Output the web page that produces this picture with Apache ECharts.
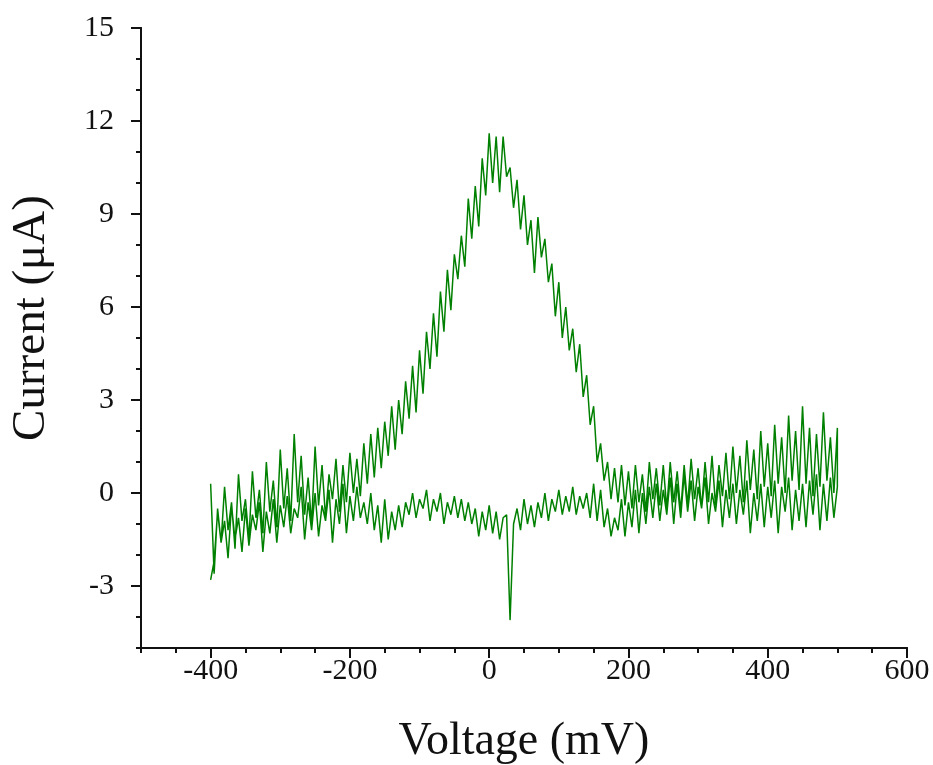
<!DOCTYPE html>
<html>
<head>
<meta charset="utf-8">
<script src="https://cdn.jsdelivr.net/npm/echarts@6/dist/echarts.min.js"></script>
<style>
html,body{margin:0;padding:0;background:#fff;}
#chart{width:933px;height:765px;}
</style>
</head>
<body>
<div id="chart"></div>
<script>
// Voltage sweep (mV), -400 to 500
var voltage = [
-400,-395,-390,-385,-380,-375,-370,-365,-360,-355,
-350,-345,-340,-335,-330,-325,-320,-315,-310,-305,
-300,-295,-290,-285,-280,-275,-270,-265,-260,-255,
-250,-245,-240,-235,-230,-225,-220,-215,-210,-205,
-200,-195,-190,-185,-180,-175,-170,-165,-160,-155,
-150,-145,-140,-135,-130,-125,-120,-115,-110,-105,
-100,-95,-90,-85,-80,-75,-70,-65,-60,-55,
-50,-45,-40,-35,-30,-25,-20,-15,-10,-5,
0,5,10,15,20,25,30,35,40,45,
50,55,60,65,70,75,80,85,90,95,
100,105,110,115,120,125,130,135,140,145,
150,155,160,165,170,175,180,185,190,195,
200,205,210,215,220,225,230,235,240,245,
250,255,260,265,270,275,280,285,290,295,
300,305,310,315,320,325,330,335,340,345,
350,355,360,365,370,375,380,385,390,395,
400,405,410,415,420,425,430,435,440,445,
450,455,460,465,470,475,480,485,490,495,
500
];
// Forward scan current (µA), same order as voltage
var currentForward = [
0.3,-2.6,-0.5,-1.6,0.2,-1.2,-0.3,-1.8,0.6,-0.9,
-0.2,-1.5,0.7,-0.8,0.1,-1.3,1.0,-0.6,0.4,-1.1,
1.4,-0.5,0.8,-0.9,1.9,-0.3,1.2,-0.7,0.5,-1.0,
1.5,-0.4,0.9,-0.8,0.6,-0.2,1.1,-0.6,0.9,-0.3,
1.3,0.0,1.1,-0.1,1.6,0.3,1.9,0.5,2.1,0.8,
2.3,1.2,2.8,1.4,3.0,1.9,3.6,2.4,4.1,2.6,
4.6,3.2,5.2,4.0,5.8,4.4,6.5,5.2,7.2,5.9,
7.7,6.9,8.3,7.3,9.5,8.2,9.9,8.6,10.8,9.6,
11.6,10.0,11.5,9.7,11.5,10.2,10.5,9.2,10.1,8.5,
9.6,8.0,8.8,7.1,8.9,7.6,8.2,6.8,7.4,5.7,
6.8,5.0,6.0,4.6,5.3,3.9,4.8,3.1,3.8,2.2,
2.8,1.0,1.6,0.4,1.0,-0.2,0.8,-0.3,0.9,-0.4,
0.7,-0.5,0.9,-0.3,0.6,-0.6,1.0,-0.2,0.8,-0.4,
0.9,-0.5,1.0,-0.3,0.7,-0.6,0.9,-0.4,1.1,-0.2,
0.8,-0.5,1.0,-0.3,1.2,-0.4,0.9,-0.1,1.3,-0.2,
1.5,0.0,1.2,-0.3,1.7,0.1,1.4,-0.2,2.0,0.2,
1.6,-0.1,2.2,0.3,1.8,0.0,2.5,0.4,2.0,0.1,
2.8,0.3,2.1,-0.1,1.9,0.2,2.6,0.4,1.8,0.0,
2.1
];
// Reverse scan current (µA), from 500 back to -400
var currentReverse = [
0.2,-0.8,0.5,-0.9,0.3,-1.2,0.6,-0.7,0.4,-1.1,
0.3,-0.9,0.1,-1.2,0.5,-0.6,0.2,-1.3,0.4,-0.8,
0.2,-1.1,0.3,-0.9,0.0,-1.3,0.4,-0.7,0.1,-1.0,
0.3,-0.8,0.1,-1.1,0.4,-0.6,0.0,-1.0,0.5,-0.5,
0.2,-0.9,0.4,-0.6,0.6,-0.8,0.3,-1.0,0.5,-0.7,
0.1,-0.9,0.3,-0.8,0.2,-1.0,0.0,-1.3,0.1,-1.1,
-0.3,-1.4,-0.2,-1.2,-0.8,-1.4,-0.5,-1.1,0.1,-0.9,
0.3,-0.8,0.0,-0.5,-0.1,-0.7,0.2,-0.6,-0.1,-0.7,
0.1,-0.6,-0.2,-0.9,0.0,-0.8,-0.3,-1.1,-0.4,-1.0,
-0.2,-1.2,-0.5,-1.0,-4.1,-0.7,-0.8,-1.5,-0.6,-1.3,
-0.4,-1.2,-0.6,-1.4,-0.5,-1.0,-0.3,-0.9,-0.2,-0.8,
-0.1,-0.7,-0.3,-1.0,0.0,-0.6,-0.2,-0.9,0.1,-0.5,
-0.2,-0.8,0.0,-0.7,-0.3,-1.1,-0.4,-1.2,-0.6,-1.5,
-0.2,-1.6,-0.4,-1.2,0.0,-1.0,-0.3,-0.8,0.2,-0.9,
-0.1,-1.3,0.3,-1.0,-0.2,-1.6,0.1,-0.9,-0.4,-1.4,
0.0,-1.2,-0.3,-1.5,0.2,-0.8,-0.5,-1.3,-0.1,-1.1,
-0.4,-1.6,-0.2,-1.3,-0.6,-1.9,-0.3,-1.2,-0.7,-1.7,
-0.5,-1.9,-0.8,-1.5,-0.4,-2.1,-0.9,-1.6,-0.6,-2.2,
-2.8
];
// Axis ranges and labelled ticks
var xRange = [-500, 600];
var yRange = [-5, 15];
var xLabelRange = [-400, 600];   // labelled (major) ticks every 200
var yLabelRange = [-3, 15];      // labelled (major) ticks every 3
var xMajorStep = 200, xMinorStep = 50;
var yMajorStep = 3, yMinorStep = 1;
var xTitle = 'Voltage (mV)';
var yTitle = 'Current (\u03bcA)';

var loop = [];
for (var i = 0; i < voltage.length; i++) loop.push([voltage[i], currentForward[i]]);
var voltageBack = voltage.slice().reverse();
for (var j = 0; j < voltageBack.length; j++) loop.push([voltageBack[j], currentReverse[j]]);

var serif = '"Liberation Serif","Times New Roman",serif';
var ink = '#111';

// plot frame in pixels
var G = {left: 141, right: 26, top: 28, bottom: 117, w: 933, h: 765};
var plotW = G.w - G.left - G.right;
var plotH = G.h - G.top - G.bottom;
// Extra grids whose axes start at the first labelled value, so major ticks align with the main scale
var majorLeft = G.left + (xLabelRange[0] - xRange[0]) / (xRange[1] - xRange[0]) * plotW;
var majorBottom = G.bottom + (yLabelRange[0] - yRange[0]) / (yRange[1] - yRange[0]) * plotH;

var lineSt = {color: ink, width: 2};
var chart = echarts.init(document.getElementById('chart'), null, {renderer: 'canvas'});
chart.setOption({
  backgroundColor: '#fff',
  animation: false,
  grid: [
    {left: G.left, right: G.right, top: G.top, bottom: G.bottom},
    {left: majorLeft, right: G.right, top: G.top, bottom: G.bottom},
    {left: G.left, right: G.right, top: G.top, bottom: majorBottom}
  ],
  xAxis: [{
    gridIndex: 0, type: 'value', min: xRange[0], max: xRange[1], interval: xMinorStep,
    axisLine: {show: true, onZero: false, lineStyle: lineSt},
    axisTick: {show: true, inside: false, length: 5, lineStyle: lineSt},
    axisLabel: {show: false},
    splitLine: {show: false}
  }, {
    gridIndex: 1, type: 'value', min: xLabelRange[0], max: xLabelRange[1], interval: xMajorStep,
    axisLine: {show: true, onZero: false, lineStyle: lineSt},
    axisTick: {show: true, inside: false, length: 10, lineStyle: lineSt},
    axisLabel: {show: true, margin: 8, color: ink, fontFamily: serif, fontSize: 30},
    splitLine: {show: false}
  }, {
    gridIndex: 2, type: 'value', min: xRange[0], max: xRange[1], show: false
  }],
  yAxis: [{
    gridIndex: 0, type: 'value', min: yRange[0], max: yRange[1], interval: yMinorStep,
    axisLine: {show: true, onZero: false, lineStyle: lineSt},
    axisTick: {show: true, inside: false, length: 5, lineStyle: lineSt},
    axisLabel: {show: false},
    splitLine: {show: false}
  }, {
    gridIndex: 1, type: 'value', min: yRange[0], max: yRange[1], show: false
  }, {
    gridIndex: 2, type: 'value', min: yLabelRange[0], max: yLabelRange[1], interval: yMajorStep,
    axisLine: {show: true, onZero: false, lineStyle: lineSt},
    axisTick: {show: true, inside: false, length: 10, lineStyle: lineSt},
    axisLabel: {show: true, margin: 27, color: ink, fontFamily: serif, fontSize: 30},
    splitLine: {show: false}
  }],
  graphic: [{
    type: 'text', x: 524, y: 742,
    style: {text: xTitle, fill: ink, font: '46px ' + serif, align: 'center', verticalAlign: 'middle'}
  }, {
    type: 'text', x: 32, y: 318, rotation: Math.PI / 2,
    style: {text: yTitle, fill: ink, font: '47px ' + serif, align: 'center', verticalAlign: 'middle'}
  }],
  series: [{
    type: 'line', xAxisIndex: 0, yAxisIndex: 0,
    data: loop, showSymbol: false, symbol: 'none',
    lineStyle: {color: '#008000', width: 1.5},
    silent: true
  }]
});
</script>
</body>
</html>
